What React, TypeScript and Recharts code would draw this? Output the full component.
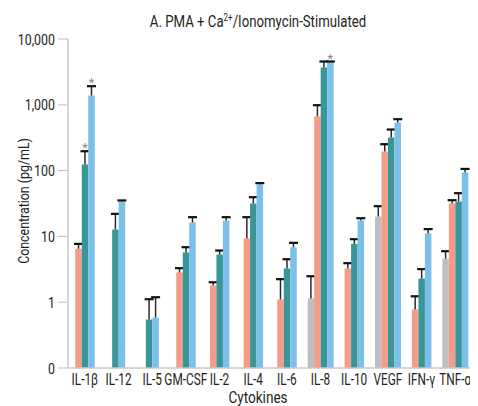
import React from 'react';
import { BarChart, Bar, XAxis, YAxis, Customized } from 'recharts';

const categories = ['IL-1β', 'IL-12', 'IL-5', 'GM-CSF', 'IL-2', 'IL-4', 'IL-6', 'IL-8', 'IL-10', 'VEGF', 'IFN-γ', 'TNF-α'];

const grayValues = [null, null, null, null, null, null, null, 1.14, null, 20.0, null, 4.6];
const grayErrTop = [null, null, null, null, null, null, null, 2.48, null, 28.8, null, 5.96];

const salmonValues = [6.5, null, null, 2.83, 1.79, 9.3, 1.1, 664, 3.25, 195, 0.775, 31.6];
const salmonErrTop = [7.7, null, null, 3.29, 2.01, 19.6, 2.24, 986, 3.92, 252, 1.23, 35.5];

const tealValues = [124, 12.7, 0.546, 5.7, 5.3, 31.6, 3.25, 3690, 7.7, 318, 2.29, 33.9];
const tealErrTop = [197, 22, 1.11, 6.85, 6.1, 39.4, 4.5, 4550, 9.07, 421, 3.18, 45.4];

const blueValues = [1384, 33.9, 0.585, 16.3, 17.4, 61.5, 6.8, 4440, 17.4, 538, 11.1, 93.5];
const blueErrTop = [1918, 35.2, 1.19, 19.6, 19.6, 64.5, 7.98, 4550, 18.9, 604, 12.9, 106];

const tealSignificant = ['IL-1β'];
const blueSignificant = ['IL-1β', 'IL-8'];

const yTicks = [0.1, 1, 10, 100, 1000, 10000];

const Y_MIN = 0.1;
const Y_MAX = 10000;
const FONT = 'Roboto, "Liberation Sans", sans-serif';
const TEXT = '#231f20';
const AXIS = '#c8c8cc';

const seriesKeys = ['gray', 'salmon', 'teal', 'blue'];
const colors: Record<string, string> = {
  gray: '#bebfc2',
  salmon: '#f59c88',
  teal: '#3a9598',
  blue: '#7cbfe8',
};

const data = categories.map((name, i) => ({
  name,
  gray: grayValues[i],
  grayErr: grayErrTop[i],
  graySig: false,
  salmon: salmonValues[i],
  salmonErr: salmonErrTop[i],
  salmonSig: false,
  teal: tealValues[i],
  tealErr: tealErrTop[i],
  tealSig: tealSignificant.includes(name),
  blue: blueValues[i],
  blueErr: blueErrTop[i],
  blueSig: blueSignificant.includes(name),
}));

const makeShape = (key: string, seriesIndex: number) => (props: any) => {
  const { x, y, width, height, payload } = props;
  const v = payload ? payload[key] : null;
  if (v == null || !isFinite(y) || !isFinite(height) || height <= 0) return null;
  const present = seriesKeys.filter((k) => payload[k] != null);
  const n = present.length;
  const j = present.indexOf(key);
  const shift = (2 - n / 2 + j - seriesIndex) * width;
  const bx = x + shift;
  const pxPerDecade = height / (Math.log10(v) - Math.log10(Y_MIN));
  const err = payload[key + 'Err'];
  const ey = err != null ? y - (Math.log10(err) - Math.log10(v)) * pxPerDecade : y;
  const cx = bx + width / 2;
  const sig = payload[key + 'Sig'];
  return (
    <g>
      <rect x={bx} y={y} width={width} height={height} fill={colors[key]} />
      {err != null && <line x1={cx} x2={cx} y1={y} y2={ey} stroke="#2a2a2a" strokeWidth={1.5} />}
      {err != null && <line x1={cx - 4.5} x2={cx + 4.5} y1={ey} y2={ey} stroke="#111" strokeWidth={2.2} />}
      {sig && (
        <text x={cx} y={ey + 1} textAnchor="middle" fontSize={13} fill="#8a8a8a" fontFamily={FONT}>
          *
        </text>
      )}
    </g>
  );
};

const formatY = (v: number) => (v === 0.1 ? '0' : v.toLocaleString('en-US'));

const XTick = (props: any) => {
  const { x, y, payload } = props;
  return (
    <g transform={`translate(${x},${y})`}>
      <text
        x={0}
        y={0}
        dy="0.71em"
        textAnchor="middle"
        transform="scale(0.74,1)"
        fontFamily={FONT}
        fontSize={16}
        fill={TEXT}
      >
        {payload.value}
      </text>
    </g>
  );
};

const YTick = (props: any) => {
  const { x, y, payload } = props;
  return (
    <g transform={`translate(${x},${y})`}>
      <text
        x={0}
        y={0}
        dy="0.36em"
        textAnchor="end"
        transform="scale(0.8,1)"
        fontFamily={FONT}
        fontSize={15.5}
        fill={TEXT}
      >
        {formatY(payload.value)}
      </text>
    </g>
  );
};

const Labels = () => (
  <g fontFamily={FONT} fill={TEXT}>
    <g transform="translate(250,19) scale(0.8,1)">
      <text x={0} y={0} textAnchor="middle" fontSize={16.5}>
        A. PMA + Ca
        <tspan fontSize={10} dy={-6}>2+</tspan>
        <tspan dy={6}>/Ionomycin-Stimulated</tspan>
      </text>
    </g>
    <g transform="translate(15,193) rotate(-90) scale(0.8,1)">
      <text x={0} y={0} textAnchor="middle" dominantBaseline="central" fontSize={15.5}>
        Concentration (pg/mL)
      </text>
    </g>
    <g transform="translate(250,395) scale(0.8,1)">
      <text x={0} y={0} textAnchor="middle" fontSize={17}>
        Cytokines
      </text>
    </g>
  </g>
);

export default function App() {
  return (
    <BarChart
      width={470}
      height={398}
      data={data}
      margin={{ top: 31, right: 6, bottom: 0, left: 0 }}
      barGap={0}
      barSize={6.5}
    >
      <XAxis
        dataKey="name"
        interval={0}
        tickLine={false}
        axisLine={{ stroke: AXIS, strokeWidth: 1.5 }}
        tickSize={4}
        tickMargin={2}
        height={38}
        tick={<XTick />}
      />
      <YAxis
        scale="log"
        type="number"
        domain={[Y_MIN, Y_MAX]}
        allowDataOverflow
        ticks={yTicks}
        interval={0}
        width={60}
        tickSize={10}
        tickMargin={3}
        axisLine={{ stroke: AXIS, strokeWidth: 1.5 }}
        tickLine={{ stroke: AXIS, strokeWidth: 1.2 }}
        tick={<YTick />}
      />
      {seriesKeys.map((k, i) => (
        <Bar key={k} dataKey={k} fill={colors[k]} isAnimationActive={false} shape={makeShape(k, i)} />
      ))}
      <Customized component={Labels} />
    </BarChart>
  );
}
